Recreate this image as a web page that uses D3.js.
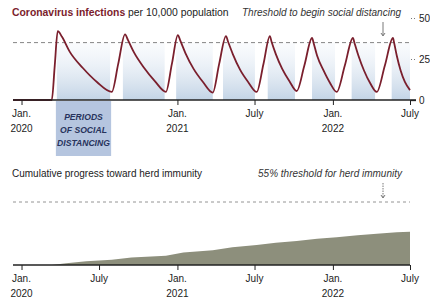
<!DOCTYPE html>
<html>
<head>
<meta charset="utf-8">
<script src="https://cdn.jsdelivr.net/npm/d3@7"></script>
<style>
  body { margin: 0; background: #fff; }
  svg { display: block; font-family: "Liberation Sans", Arial, sans-serif; }
</style>
</head>
<body>
<div id="chart"></div>
<script>
// infection curve
const infectionDates = [
  "2019-12-12","2020-03-12","2020-03-19","2020-03-26","2020-04-05","2020-04-23","2020-05-24","2020-06-26","2020-07-31",
  "2020-08-15","2020-08-31","2020-09-07","2020-09-21","2020-10-15","2020-11-09","2020-12-05",
  "2020-12-19","2021-01-02","2021-01-08","2021-01-20","2021-02-08","2021-03-02","2021-03-25",
  "2021-04-09","2021-04-25","2021-04-30","2021-05-11","2021-05-28","2021-06-16","2021-07-06",
  "2021-07-22","2021-08-06","2021-08-10","2021-08-20","2021-09-04","2021-09-21","2021-10-08",
  "2021-10-26","2021-11-13","2021-11-17","2021-11-25","2021-12-10","2021-12-25","2022-01-10",
  "2022-01-29","2022-02-17","2022-02-21","2022-03-02","2022-03-15","2022-03-29","2022-04-14",
  "2022-05-03","2022-05-22","2022-05-25","2022-05-31","2022-06-09","2022-06-19","2022-07-01"
];
const infectionValues = [
  0, 0, 21, 42, 38.5, 29.5, 19.5, 11, 5,
  22, 40, 36.5, 29, 19.5, 11.5, 5,
  22, 39.6, 36, 28.5, 19, 11, 4.5,
  22, 39, 35.5, 28, 18.5, 11, 4.9,
  22, 39, 35.5, 28, 19, 11.5, 5.5,
  21, 37.8, 34.5, 27, 18, 10.5, 4.9,
  21, 37.8, 34.5, 27, 18, 10.5, 4.9,
  21, 37.8, 34.5, 27, 18, 11, 6
];
const distancingStart = ["2020-03-24","2020-08-26","2020-12-29","2021-04-18","2021-08-01","2021-11-13","2022-02-14","2022-05-19"];
const distancingEnd   = ["2020-07-27","2020-12-02","2021-03-25","2021-07-02","2021-10-04","2022-01-06","2022-04-10","2022-07-01"];
const threshold = 35;
const infectionTicks = [0, 25, 50];

// cumulative immunity, percent
const immunityDates = [
  "2020-03-12","2020-04-15","2020-06-01","2020-07-31","2020-09-15","2020-12-05","2021-01-15","2021-03-25",
  "2021-05-10","2021-07-06","2021-08-20","2021-10-08","2021-11-25","2022-01-10","2022-02-28","2022-04-14",
  "2022-05-31","2022-07-01"
];
const immunityValues = [0, 1.5, 3.2, 4.6, 6.5, 8, 11, 12.8, 15.5, 17.5, 19.5, 21, 23, 24.2, 26, 27.2, 28.5, 29];
const herdThreshold = 55;

const tickDates = ["2020-01-01","2020-07-01","2021-01-01","2021-07-01","2022-01-01","2022-07-01"];

const parse = d3.timeParse("%Y-%m-%d");
const width = 430, height = 299;

const svg = d3.select("#chart").append("svg")
  .attr("width", width)
  .attr("height", height);

const x = d3.scaleTime()
  .domain([parse("2019-12-12"), parse("2022-07-01")])
  .range([13, 410]);

const yTop = d3.scaleLinear().domain([0, 50]).range([100, 18]);
const yBot = d3.scaleLinear().domain([0, herdThreshold]).range([265, 202]);

const defs = svg.append("defs");
const grad = defs.append("linearGradient")
  .attr("id", "shade")
  .attr("gradientUnits", "userSpaceOnUse")
  .attr("x1", 0).attr("x2", 0)
  .attr("y1", yTop(threshold)).attr("y2", yTop(0));
grad.append("stop").attr("offset", "0%").attr("stop-color", "#eef3f9").attr("stop-opacity", 0.3);
grad.append("stop").attr("offset", "100%").attr("stop-color", "#bccfe3").attr("stop-opacity", 0.9);

// ---- top chart ----
const periods = distancingStart.map((s, i) => ({ start: parse(s), end: parse(distancingEnd[i]) }));

svg.selectAll("rect.period")
  .data(periods)
  .enter()
  .append("rect")
  .attr("class", "period")
  .attr("x", d => x(d.start))
  .attr("width", d => x(d.end) - x(d.start))
  .attr("y", yTop(threshold))
  .attr("height", yTop(0) - yTop(threshold))
  .attr("fill", "url(#shade)");

// threshold line
svg.append("line")
  .attr("x1", 13).attr("x2", 410)
  .attr("y1", yTop(threshold)).attr("y2", yTop(threshold))
  .attr("stroke", "#666").attr("stroke-width", 0.8)
  .attr("stroke-dasharray", "4,3");

const infection = infectionDates.map((d, i) => ({ date: parse(d), value: infectionValues[i] }));

svg.append("path")
  .datum(infection)
  .attr("fill", "none")
  .attr("stroke", "#7a1f2d")
  .attr("stroke-width", 1.8)
  .attr("stroke-linejoin", "round")
  .attr("d", d3.line()
    .x(d => x(d.date))
    .y(d => yTop(d.value))
    .curve(d3.curveMonotoneX));

// label box for the distancing periods
const p0 = periods[0];
const boxMid = (x(p0.start) + x(p0.end)) / 2;
svg.append("rect")
  .attr("x", x(p0.start) - 1)
  .attr("y", 101)
  .attr("width", x(p0.end) - x(p0.start) + 2)
  .attr("height", 55)
  .attr("fill", "#b5c5df");
svg.append("text")
  .attr("text-anchor", "middle")
  .attr("font-size", 8.6)
  .attr("font-weight", "bold")
  .attr("font-style", "italic")
  .attr("fill", "#27335c")
  .selectAll("tspan")
  .data(["PERIODS", "OF SOCIAL", "DISTANCING"])
  .enter()
  .append("tspan")
  .attr("x", boxMid)
  .attr("y", (d, i) => 120 + i * 13)
  .text(d => d);

// time axis with two-line Jan. labels
function drawTimeAxis(y0, skip, lineEnd) {
  svg.append("line")
    .attr("x1", 13).attr("x2", lineEnd)
    .attr("y1", y0).attr("y2", y0)
    .attr("stroke", "#222").attr("stroke-width", 1.3);
  const ticks = tickDates.map(parse).filter(d => !skip.includes(+d));
  const axis = svg.append("g")
    .attr("transform", `translate(0,${y0})`)
    .call(d3.axisBottom(x).tickValues(ticks).tickSize(5).tickFormat(""));
  axis.select(".domain").remove();
  axis.selectAll(".tick line").attr("stroke", "#222").attr("stroke-width", 1);
  const lab = svg.append("g")
    .attr("font-size", 10)
    .attr("fill", "#222")
    .attr("text-anchor", "middle");
  ticks.forEach(d => {
    const isJan = d.getMonth() === 0;
    const t = lab.append("text").attr("x", x(d)).attr("y", y0 + 17);
    t.append("tspan").attr("x", x(d)).text(isJan ? "Jan." : "July");
    if (isJan) {
      t.append("tspan").attr("x", x(d)).attr("dy", 14.5).text(d3.timeFormat("%Y")(d));
    }
  });
}
drawTimeAxis(yTop(0), [+parse("2020-07-01")], 416);

// right value axis
const yAxis = svg.append("g")
  .attr("transform", "translate(411,0)")
  .call(d3.axisRight(yTop).tickValues(infectionTicks).tickSize(5).tickPadding(3));
yAxis.select(".domain").remove();
yAxis.selectAll(".tick line")
  .attr("stroke-dasharray", d => d === 0 ? null : "1,2")
  .attr("stroke", d => d === 0 ? "#222" : "#777")
  .attr("stroke-width", d => d === 0 ? 1.3 : 1);
yAxis.selectAll(".tick text")
  .attr("font-size", 10)
  .attr("fill", "#222")
  .attr("font-family", "Liberation Sans, Arial, sans-serif");

// titles
const t1 = svg.append("text").attr("x", 12).attr("y", 16).attr("font-size", 10.4);
t1.append("tspan").attr("font-weight", "bold").attr("fill", "#7b1c2c").text("Coronavirus infections");
t1.append("tspan").attr("fill", "#222").text(" per 10,000 population");

svg.append("text")
  .attr("x", 401).attr("y", 16)
  .attr("text-anchor", "end")
  .attr("font-size", 10)
  .attr("font-style", "italic")
  .attr("fill", "#333")
  .text("Threshold to begin social distancing");

function arrow(xa, ya, yb, dashed) {
  svg.append("line")
    .attr("x1", xa).attr("x2", xa).attr("y1", ya).attr("y2", yb - 1)
    .attr("stroke", "#555").attr("stroke-width", 0.8)
    .attr("stroke-dasharray", dashed ? "1.5,1" : null);
  svg.append("path")
    .attr("d", `M${xa - 2},${yb - 3}L${xa},${yb}L${xa + 2},${yb - 3}`)
    .attr("fill", "none").attr("stroke", "#555").attr("stroke-width", 0.8);
}
arrow(383, 22, 36, false);

// ---- bottom chart ----
svg.append("text")
  .attr("x", 12).attr("y", 177)
  .attr("font-size", 10)
  .attr("fill", "#222")
  .text("Cumulative progress toward herd immunity");

svg.append("text")
  .attr("x", 402).attr("y", 177)
  .attr("text-anchor", "end")
  .attr("font-size", 10)
  .attr("font-style", "italic")
  .attr("fill", "#333")
  .text("55% threshold for herd immunity");
arrow(383, 183, 198, true);

svg.append("line")
  .attr("x1", 13).attr("x2", 410)
  .attr("y1", yBot(herdThreshold)).attr("y2", yBot(herdThreshold))
  .attr("stroke", "#888").attr("stroke-width", 0.9)
  .attr("stroke-dasharray", "3,3");

const immunity = immunityDates.map((d, i) => ({ date: parse(d), value: immunityValues[i] }));
svg.append("path")
  .datum(immunity)
  .attr("fill", "#8d8f7c")
  .attr("d", d3.area()
    .x(d => x(d.date))
    .y0(yBot(0))
    .y1(d => yBot(d.value)));

drawTimeAxis(yBot(0), [], 410);
</script>
</body>
</html>
